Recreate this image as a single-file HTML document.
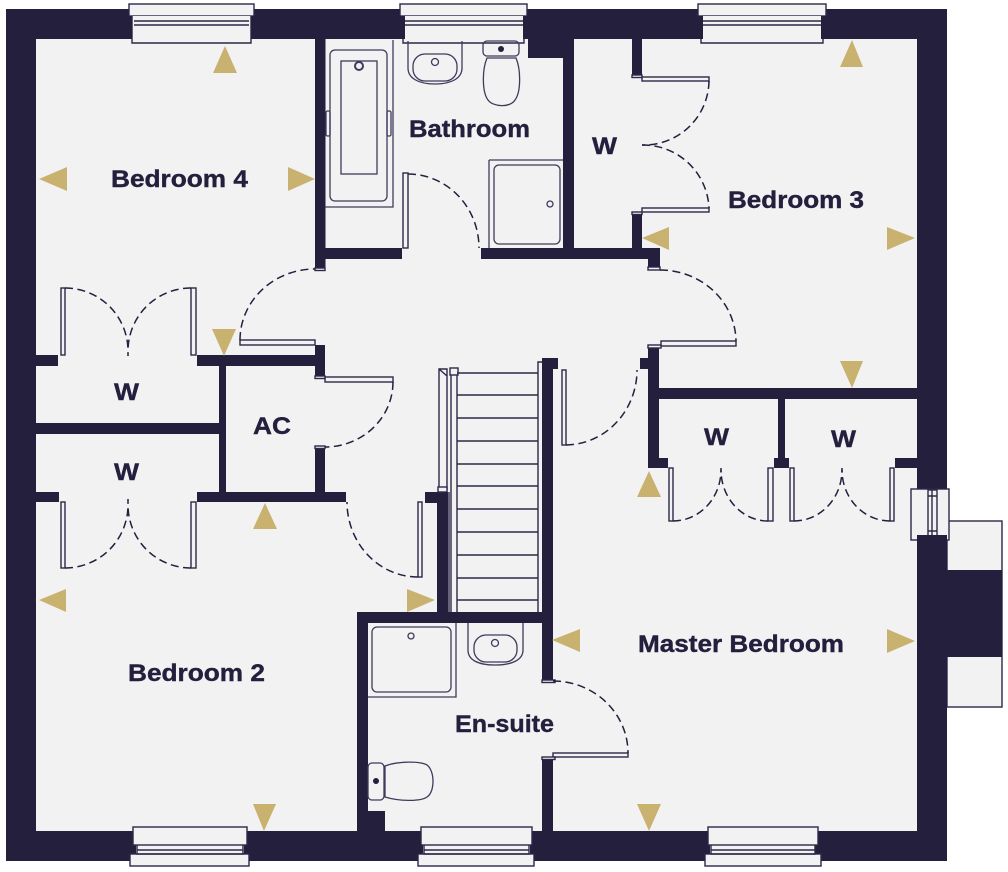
<!DOCTYPE html>
<html><head><meta charset="utf-8"><style>
html,body{margin:0;padding:0;background:#fff;width:1008px;height:872px;overflow:hidden}
svg{display:block}
.w{fill:#231f3d}
.f{fill:#f2f2f3}
.p{fill:#f2f2f3;stroke:#2c2848;stroke-width:1.4}
.l{fill:none;stroke:#2c2848;stroke-width:1.4}
.s{fill:none;stroke:#3f3b5c;stroke-width:1.3}
.d{fill:none;stroke:#231f3d;stroke-width:1.5;stroke-dasharray:8 4.5}
.g{fill:#c9b26f}
text{font-family:"Liberation Sans",sans-serif;font-weight:700;font-size:24px;fill:#231f3d;stroke:#231f3d;stroke-width:.4}
</style></head><body>
<svg width="1008" height="872" viewBox="0 0 1008 872" xmlns="http://www.w3.org/2000/svg">
<!-- chimney -->
<rect x="947" y="521" width="55" height="186" class="p"/>
<rect x="947" y="570" width="55" height="87" class="w"/>
<!-- outer wall -->
<rect x="6" y="9" width="941" height="852" class="w"/>
<rect x="36" y="39" width="881" height="792" class="f"/>
<!-- interior walls -->
<g class="w">
<rect x="315" y="39" width="10.500" height="230"/>
<rect x="325" y="248" width="77" height="11"/>
<rect x="481" y="248" width="179" height="11"/>
<rect x="648" y="259" width="12" height="9"/>
<rect x="563" y="39" width="11" height="209"/>
<rect x="528" y="39" width="35" height="19"/>
<rect x="632" y="39" width="10" height="36"/>
<rect x="632" y="213" width="10" height="35"/>
<rect x="648" y="347" width="11" height="121"/>
<rect x="640" y="358" width="8" height="11"/>
<rect x="659" y="388" width="258" height="11"/>
<rect x="778" y="399" width="7" height="60"/>
<rect x="659" y="458" width="9" height="10"/>
<rect x="774" y="458" width="15" height="10"/>
<rect x="895" y="458" width="22" height="10"/>
<rect x="542" y="358" width="11" height="322"/>
<rect x="542" y="758" width="11" height="73"/>
<rect x="553" y="358" width="5" height="11"/>
<rect x="357" y="612" width="196" height="11"/>
<rect x="357" y="612" width="11" height="219"/>
<rect x="368" y="811" width="17" height="20"/>
<rect x="437" y="492" width="11" height="120"/>
<rect x="425" y="492" width="12" height="11"/>
<rect x="36" y="355" width="22" height="11"/>
<rect x="197" y="355" width="118" height="11"/>
<rect x="219" y="366" width="7" height="126"/>
<rect x="36" y="423" width="183" height="11"/>
<rect x="36" y="492" width="23" height="10"/>
<rect x="197" y="492" width="149" height="10"/>
<rect x="315" y="345" width="10" height="32"/>
<rect x="315" y="447" width="10" height="45"/>
</g>
<!-- top windows -->
<g>
<rect x="134" y="9" width="115" height="31" class="f"/>
<rect x="129" y="4" width="125" height="12" class="p"/>
<rect x="132" y="16" width="119" height="27" class="f"/>
<path d="M132 16V43H251V16M134 21H249M134 25H249" class="l"/>
<rect x="405" y="9" width="118" height="31" class="f"/>
<rect x="400" y="4" width="127" height="12" class="p"/>
<rect x="403" y="16" width="121" height="27" class="f"/>
<path d="M403 39V43H524V39M405 21H523M405 25H523" class="l"/>
<rect x="703" y="9" width="118" height="31" class="f"/>
<rect x="698" y="4" width="128" height="12" class="p"/>
<rect x="701" y="16" width="122" height="27" class="f"/>
<path d="M701 16V43H823V16M703 21H821M703 25H821" class="l"/>
</g>
<!-- dark window jambs -->
<g class="w">
<rect x="523" y="16" width="5" height="23"/>
<rect x="400" y="16" width="5" height="23"/>
<rect x="698" y="16" width="5" height="23"/>
<rect x="821" y="16" width="5" height="23"/>
<rect x="127" y="16" width="5" height="23"/>
<rect x="251" y="16" width="5" height="23"/>
</g>
<!-- bottom windows -->
<g>
<rect x="136" y="827" width="108" height="34" class="f"/>
<rect x="133" y="827" width="114" height="18" class="p"/>
<rect x="130" y="854" width="119" height="12" class="p"/>
<path d="M137 845V854H243V845M137 850H243" class="l"/>
<rect x="423" y="827" width="107" height="34" class="f"/>
<rect x="421" y="827" width="111" height="18" class="p"/>
<rect x="418" y="854" width="116" height="12" class="p"/>
<path d="M424 845V854H529V845M424 850H529" class="l"/>
<rect x="710" y="827" width="105" height="34" class="f"/>
<rect x="708" y="827" width="110" height="18" class="p"/>
<rect x="705" y="854" width="116" height="12" class="p"/>
<path d="M711 845V854H815V845M711 850H815" class="l"/>
</g>
<!-- right window -->
<rect x="911" y="489" width="38" height="51" class="p"/>
<rect x="928" y="490" width="9" height="49" class="p"/>
<path d="M932 490V539M928 496H937M928 531H937" class="l"/>
<rect x="917" y="535" width="30" height="10" class="w"/>
<!-- door panels -->
<g class="p">
<rect x="642" y="77" width="67" height="4"/>
<rect x="642" y="208" width="67" height="4"/>
<rect x="661" y="341" width="75" height="5"/>
<rect x="562" y="370" width="4" height="75"/>
<rect x="553" y="753" width="75" height="4"/>
<rect x="418" y="502" width="4" height="75"/>
<rect x="61" y="288" width="4" height="67"/>
<rect x="191" y="288" width="5" height="67"/>
<rect x="61" y="502" width="4" height="66"/>
<rect x="191" y="502" width="5" height="66"/>
<rect x="240" y="340" width="75" height="5"/>
<rect x="325" y="377" width="68" height="5"/>
<rect x="669" y="468" width="4" height="53"/>
<rect x="768" y="468" width="5" height="53"/>
<rect x="790" y="468" width="4" height="53"/>
<rect x="890" y="468" width="4" height="53"/>
<rect x="403" y="173" width="5" height="75"/>
</g>
<!-- wall-end caps -->
<g class="p">
<rect x="632" y="75" width="10" height="2.500"/>
<rect x="632" y="212" width="10" height="2.500"/>
<rect x="648" y="267" width="12" height="3"/>
<rect x="648" y="345" width="13" height="3"/>
<rect x="315" y="376" width="10" height="2.500"/>
<rect x="315" y="446" width="10" height="2.500"/>
<rect x="315" y="268" width="10" height="2.500"/>
<rect x="542" y="680" width="13" height="2.500"/>
<rect x="542" y="757" width="13" height="2.500"/>
</g>
<!-- door arcs -->
<g class="d">
<path d="M709 81A65 65 0 0 1 642 145"/>
<path d="M642 145A66 66 0 0 1 709 208"/>
<path d="M660 270A76 72 0 0 1 736 341"/>
<path d="M566 445A72 75 0 0 0 637 370"/>
<path d="M553 681A75 72 0 0 1 628 753"/>
<path d="M418 577A71 75 0 0 1 347 502"/>
<path d="M65 288A63 63 0 0 1 128 350V356"/>
<path d="M191 288A63 63 0 0 0 128 350"/>
<path d="M65 568A63 63 0 0 0 128 505V499"/>
<path d="M191 568A63 63 0 0 1 128 505"/>
<path d="M240 340A75 71 0 0 1 315 269"/>
<path d="M393 382A68 65 0 0 1 325 447"/>
<path d="M673 521A48 51 0 0 0 721 470V468"/>
<path d="M768 521A47 51 0 0 1 721 470"/>
<path d="M794 521A48 51 0 0 0 842 470V468"/>
<path d="M890 521A48 51 0 0 1 842 470"/>
<path d="M408 174A71 74 0 0 1 479 248"/>
</g>
<!-- stairs -->
<path d="M439 492V369H447V490M451 612V369H457V612M538 612V362H542M449 492V612M439 369L447 376" class="l"/>
<rect x="450" y="368" width="8" height="7" class="p"/>
<rect x="438" y="487" width="9" height="5" class="p"/>
<path class="l" d="M457 373H538M457 395H538M457 418H538M457 441H538M457 464H538M457 486H538M457 509H538M457 532H538M457 555H538M457 578H538M457 600H538"/>
<!-- bathroom fixtures -->
<path d="M325 207H393V40" class="s"/>
<rect x="330" y="50" width="57" height="151" rx="5" class="s"/>
<rect x="341" y="61" width="36" height="113" class="s"/>
<circle cx="359" cy="66" r="4" fill="none" stroke="#3f3b5c" stroke-width="2"/>
<rect x="326" y="111" width="4" height="25" rx="1.500" class="s"/>
<rect x="387" y="111" width="4" height="25" rx="1.500" class="s"/>
<path d="M408 41V68C408 78 418 84 435 84S462 78 462 68V41" class="s"/>
<rect x="413" y="54" width="44" height="27" rx="12" class="s"/>
<circle cx="435" cy="62" r="3.500" class="s"/>
<rect x="483" y="41" width="36" height="15" rx="4" class="s"/>
<circle cx="501" cy="49" r="3" class="w"/>
<path d="M487 58C482 70 482 92 488 100C493 107 510 108 515 100C521 92 521 70 516 58Z" class="s"/>
<path d="M489 160H563M489 160V248" class="s"/>
<rect x="494" y="165" width="66" height="79" rx="5" class="s"/>
<circle cx="550" cy="204" r="3" class="s"/>
<!-- en-suite fixtures -->
<path d="M368 697H456V623" class="s"/>
<rect x="372" y="627" width="79" height="65" rx="5" class="s"/>
<circle cx="411" cy="636" r="3" class="s"/>
<path d="M468 623V650C468 660 478 665 495 665S523 660 523 650V623" class="s"/>
<rect x="474" y="635" width="43" height="27" rx="12" class="s"/>
<circle cx="495" cy="643" r="3.500" class="s"/>
<rect x="368" y="763" width="16" height="37" rx="4" class="s"/>
<circle cx="376" cy="781" r="3" class="w"/>
<path d="M385 766C398 761 420 761 427 765C435 771 435 792 427 797C420 802 398 801 385 797Z" class="s"/>
<!-- markers -->
<g class="g">
<polygon points="225,46 213,73 237,73"/>
<polygon points="39,179 67,167 67,191"/>
<polygon points="315,179 288,167 288,191"/>
<polygon points="224,356 212,329 236,329"/>
<polygon points="265,503 253,529 277,529"/>
<polygon points="39,600 66,589 66,612"/>
<polygon points="435,600 407,589 407,612"/>
<polygon points="264,831 253,804 276,804"/>
<polygon points="852,40 840,67 863,67"/>
<polygon points="642,238 669,227 669,250"/>
<polygon points="915,238 887,227 887,250"/>
<polygon points="852,388 840,361 863,361"/>
<polygon points="649,471 637,497 661,497"/>
<polygon points="915,641 887,629 887,653"/>
<polygon points="552,640 580,629 580,652"/>
<polygon points="649,831 637,804 661,804"/>
</g>
<!-- labels -->
<text x="111" y="187" textLength="137" lengthAdjust="spacingAndGlyphs">Bedroom 4</text>
<text x="409" y="137" textLength="121" lengthAdjust="spacingAndGlyphs">Bathroom</text>
<text x="592" y="154" textLength="25" lengthAdjust="spacingAndGlyphs">W</text>
<text x="728" y="208" textLength="136" lengthAdjust="spacingAndGlyphs">Bedroom 3</text>
<text x="114" y="400" textLength="25" lengthAdjust="spacingAndGlyphs">W</text>
<text x="114" y="480" textLength="25" lengthAdjust="spacingAndGlyphs">W</text>
<text x="253" y="434" textLength="38" lengthAdjust="spacingAndGlyphs">AC</text>
<text x="704" y="445" textLength="25" lengthAdjust="spacingAndGlyphs">W</text>
<text x="831" y="447" textLength="25" lengthAdjust="spacingAndGlyphs">W</text>
<text x="638" y="652" textLength="206" lengthAdjust="spacingAndGlyphs">Master Bedroom</text>
<text x="128" y="681" textLength="137" lengthAdjust="spacingAndGlyphs">Bedroom 2</text>
<text x="455" y="732" textLength="99" lengthAdjust="spacingAndGlyphs">En-suite</text>
</svg>
</body></html>
